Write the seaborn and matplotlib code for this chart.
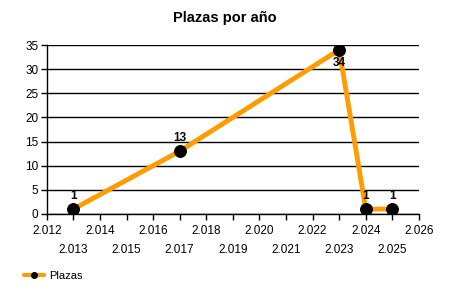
import matplotlib
matplotlib.use("Agg")
import matplotlib.pyplot as plt
import seaborn as sns
import pandas as pd
from matplotlib.lines import Line2D

years = [2013, 2017, 2023, 2024, 2025]
plazas = [1, 13, 34, 1, 1]
label_pos = ["above", "above", "below", "above", "above"]
x_ticks = list(range(2012, 2027))
x_tick_labels = ["2.%03d" % (y - 2000) for y in x_ticks]
y_ticks = [0, 5, 10, 15, 20, 25, 30, 35]

sns.set_style("white")
plt.rcParams['font.family'] = ['Liberation Sans', 'DejaVu Sans']
plt.rcParams['text.color'] = 'black'
plt.rcParams['xtick.color'] = 'black'
plt.rcParams['ytick.color'] = 'black'
plt.rcParams['axes.labelcolor'] = 'black'

df = pd.DataFrame({"Año": years, "Plazas": plazas})

fig = plt.figure(figsize=(4.5, 3), dpi=100)
ax = fig.add_axes([0.104, 0.287, 0.827, 0.563])

sns.lineplot(data=df, x="Año", y="Plazas", ax=ax, color="#FF9C00", linewidth=3.5,
             marker="o", markersize=8.5, markerfacecolor="black", markeredgecolor="black",
             label="Plazas", legend=False, zorder=3)

for x, y, p in zip(years, plazas, label_pos):
    if p == "above":
        ax.annotate(str(y), (x, y), xytext=(0, 5), textcoords="offset points",
                    ha="center", va="bottom", fontsize=8.5, fontweight="bold", color="black")
    else:
        ax.annotate(str(y), (x, y), xytext=(0, -5), textcoords="offset points",
                    ha="center", va="top", fontsize=8.5, fontweight="bold", color="black")

ax.set_xlim(2012, 2026)
ax.set_ylim(0, 35)
major = x_ticks[0::2]
minor = x_ticks[1::2]
ax.set_xticks(major)
ax.set_xticklabels(x_tick_labels[0::2], fontsize=8.5)
ax.set_xticks(minor, minor=True)
ax.set_xticklabels(x_tick_labels[1::2], minor=True, fontsize=8.5)
ax.set_yticks(y_ticks)
ax.set_yticklabels([str(v) for v in y_ticks], fontsize=8.5)
ax.tick_params(axis="both", which="both", direction="out", length=4, width=1, colors="black", bottom=True, left=True)
ax.tick_params(axis="y", pad=2)
ax.tick_params(axis="x", which="major", pad=4)
ax.tick_params(axis="x", which="minor", pad=18)
ax.yaxis.grid(True, color="black", linewidth=1)
ax.xaxis.grid(False, which="both")
ax.set_axisbelow(True)
for s in ["top", "right"]:
    ax.spines[s].set_visible(False)
for s in ["left", "bottom"]:
    ax.spines[s].set_color("black")
    ax.spines[s].set_linewidth(1)
ax.set_xlabel("")
ax.set_ylabel("")
fig.text(0.5, 0.94, "Plazas por año", ha="center", va="center", fontsize=10.5, fontweight="bold", color="black")

handle = Line2D([], [], color="#FF9C00", linewidth=3, marker="o", markersize=4,
                markerfacecolor="black", markeredgecolor="black")
fig.legend([handle], ["Plazas"], loc="center left", bbox_to_anchor=(0.03, 0.08),
           frameon=False, fontsize=8, handlelength=1.8, handletextpad=0.5, labelcolor="black")

fig.savefig("out.png", dpi=100, facecolor="white")
